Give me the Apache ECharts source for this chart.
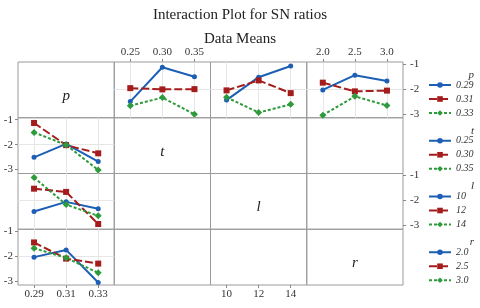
<!DOCTYPE html>
<html><head><meta charset="utf-8">
<script src="https://cdn.jsdelivr.net/npm/echarts@6/dist/echarts.min.js"></script>
<style>html,body{margin:0;padding:0;background:#fff}#c{width:480px;height:308px}</style>
</head><body><div id="c"></div>
<script>
const factorNames = ['p', 't', 'l', 'r'];
const pLevels = ['0.29', '0.31', '0.33'];
const tLevels = ['0.25', '0.30', '0.35'];
const lLevels = ['10', '12', '14'];
const rLevels = ['2.0', '2.5', '3.0'];
// SN ratio data means: rows = p levels, columns = levels of the other factor
const snMeansPT = [[-2.51, -1.13, -1.51], [-1.97, -2.02, -2.01], [-2.68, -2.35, -3.02]];
const snMeansPL = [[-2.45, -1.53, -1.08], [-2.06, -1.66, -2.17], [-2.34, -2.95, -2.62]];
const snMeansPR = [[-2.04, -1.45, -1.68], [-1.75, -2.10, -2.07], [-3.06, -2.30, -2.67]];
const yTickValues = [-3, -2, -1];

const levels = [pLevels, tLevels, lLevels, rLevels];
const tables = [null, snMeansPT, snMeansPL, snMeansPR];
const colors = ['#1c5fb4', '#a51c1c', '#2d9b3b'];
const symbols = ['circle', 'rect', 'diamond'];
const symbolSizes = [5, 6, 7];
const lineTypes = ['solid', [8, 3], [3, 2]];

const L = 18, T = 62, W = 96.25, H = 55.75;
const SERIF = '"Liberation Serif","Times New Roman",serif';
const grids = [], xAxes = [], yAxes = [], series = [], graphics = [], legends = [];

function lineSeries(name, k, data, idx) {
  return {
    type: 'line', name: name, data: data, xAxisIndex: idx, yAxisIndex: idx,
    symbol: symbols[k], symbolSize: symbolSizes[k],
    lineStyle: { color: colors[k], width: 2, type: lineTypes[k] },
    itemStyle: { color: colors[k] },
    emphasis: { disabled: true }, animation: false, z: 3
  };
}

for (let r = 0; r < 4; r++) {
  for (let c = 0; c < 4; c++) {
    const idx = r * 4 + c;
    const plotted = (r === 0 && c > 0) || (c === 0 && r > 0);
    const xTop = r === 0 && (c === 1 || c === 3);
    const xBottom = r === 3 && (c === 0 || c === 2);
    const yLeft = c === 0 && (r === 1 || r === 3);
    const yRight = c === 3 && (r === 0 || r === 2);
    grids.push({ left: L + c * W, top: T + r * H, width: W, height: H, show: true,
      borderColor: '#9a9a9a', borderWidth: 1, backgroundColor: 'transparent' });
    xAxes.push({
      gridIndex: idx, type: 'category', data: levels[c], boundaryGap: true,
      position: xTop ? 'top' : 'bottom',
      axisLine: { show: false },
      axisTick: { show: xTop || xBottom, alignWithLabel: true, length: 3, lineStyle: { color: '#888' } },
      axisLabel: { show: xTop || xBottom, margin: 4, fontSize: 11, fontFamily: SERIF, color: '#333' },
      splitLine: { show: plotted, alignWithLabel: true, lineStyle: { color: '#e6e6e6', width: 1 } }
    });
    yAxes.push({
      gridIndex: idx, type: 'value', min: -3.16, max: -0.92, splitNumber: 2,
      position: yRight ? 'right' : 'left',
      axisLine: { show: false },
      axisTick: { show: yLeft || yRight, customValues: yTickValues, length: 3, lineStyle: { color: '#888' } },
      axisLabel: { show: yLeft || yRight, customValues: yTickValues, margin: yRight ? 7 : 5,
        fontSize: 11, fontFamily: SERIF, color: '#333' },
      splitLine: { show: plotted, showMinLine: false, showMaxLine: false, lineStyle: { color: '#e6e6e6', width: 1 } }
    });
    if (r === 0 && c > 0) {
      for (let i = 0; i < 3; i++) series.push(lineSeries(pLevels[i], i, tables[c][i], idx));
    } else if (c === 0 && r > 0) {
      for (let j = 0; j < 3; j++) series.push(lineSeries(levels[r][j], j, tables[r].map(row => row[j]), idx));
    }
    if (r === c) {
      graphics.push({ type: 'text', x: L + c * W + W / 2, y: T + r * H + H / 2 + 6,
        style: { text: factorNames[r], font: 'italic 15px ' + SERIF, fill: '#222', align: 'center', verticalAlign: 'middle' } });
    }
  }
}

for (let k = 0; k < 4; k++) {
  legends.push({
    data: levels[k], orient: 'vertical', left: 428, top: T + k * H + 17,
    itemWidth: 22, itemHeight: 7, itemGap: 2, selectedMode: false, padding: 0,
    textStyle: { fontFamily: SERIF, fontStyle: 'italic', fontSize: 10, color: '#333', lineHeight: 12 }
  });
  graphics.push({ type: 'text', x: 474, y: T + k * H + 13,
    style: { text: factorNames[k], font: 'italic 11px ' + SERIF, fill: '#333', align: 'right', verticalAlign: 'middle' } });
}

const chart = echarts.init(document.getElementById('c'), null, { renderer: 'canvas' });
chart.setOption({
  backgroundColor: '#fff',
  animation: false,
  title: [
    { text: 'Interaction Plot for SN ratios', left: 'center', top: 3,
      textStyle: { fontFamily: SERIF, fontWeight: 'normal', fontSize: 15, color: '#222' } },
    { text: 'Data Means', left: 'center', top: 27,
      textStyle: { fontFamily: SERIF, fontWeight: 'normal', fontSize: 15, color: '#222' } }
  ],
  grid: grids, xAxis: xAxes, yAxis: yAxes, series: series, legend: legends,
  graphic: graphics
});
</script></body></html>
